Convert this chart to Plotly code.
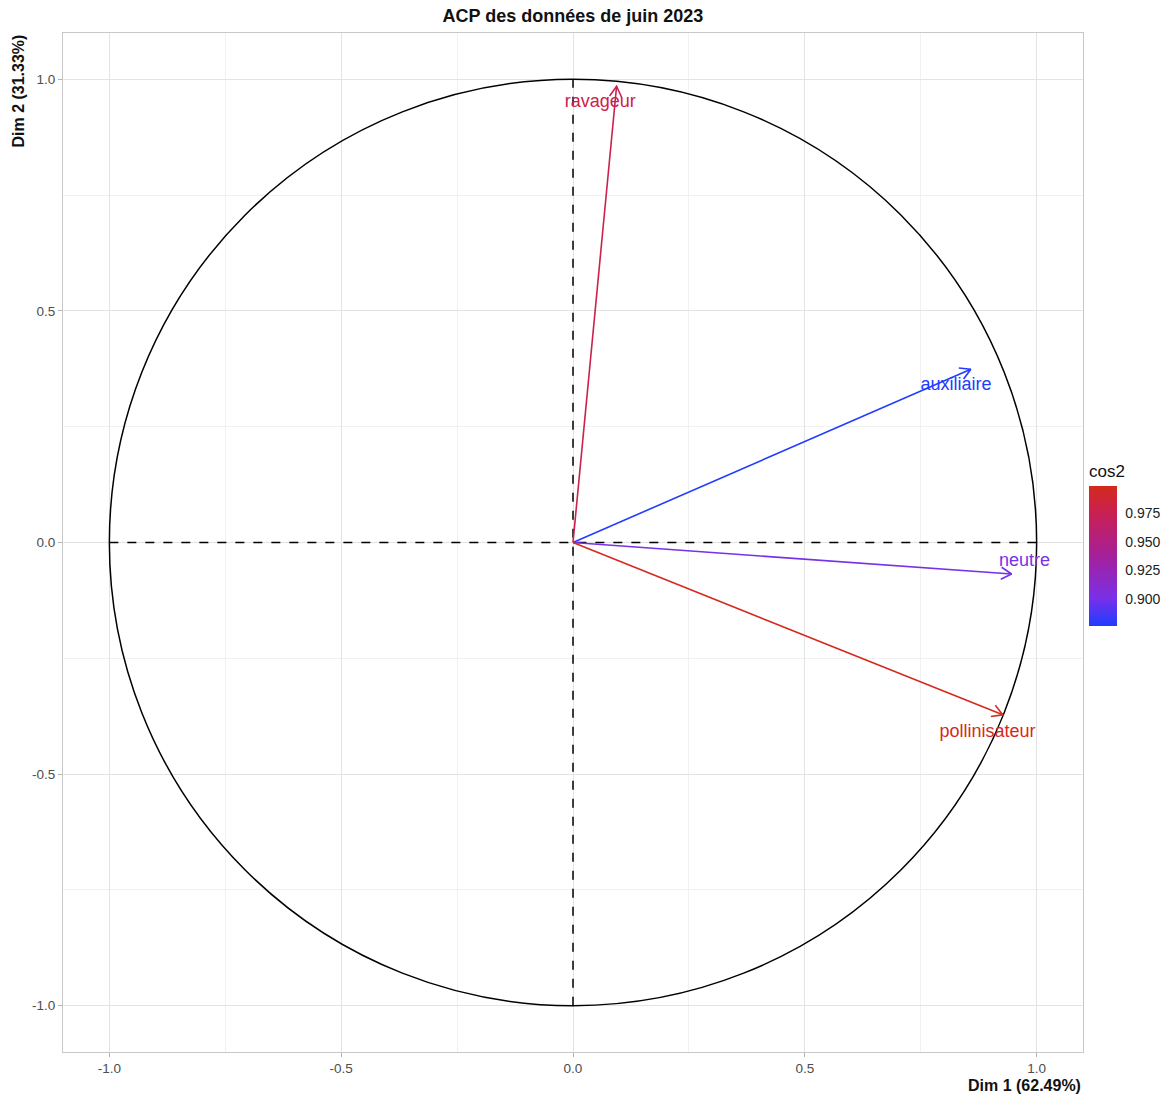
import numpy as np
import plotly.graph_objects as go
from plotly.colors import sample_colorscale

# ---- data ----
variables = ["ravageur", "auxiliaire", "neutre", "pollinisateur"]
dim1 = [0.094, 0.858, 0.946, 0.927]
dim2 = [0.985, 0.374, -0.068, -0.372]
cos2 = [0.979, 0.877, 0.900, 0.999]
label_x = [0.059, 0.826, 0.974, 0.894]
label_y = [0.950, 0.340, -0.040, -0.411]
axis_ticks = [-1.0, -0.5, 0.0, 0.5, 1.0]
cbar_ticks = [0.900, 0.925, 0.950, 0.975]
cmin, cmax = 0.8765, 0.9995

colorscale = [
    [0.0, "#1f3cff"],
    [0.2, "#7a30e8"],
    [0.5, "#a5209a"],
    [0.8, "#c91f55"],
    [1.0, "#d42a1c"],
]

fig = go.Figure()

head_len = 0.026
head_ang = np.deg2rad(30)

for name, x, y, c in zip(variables, dim1, dim2, cos2):
    t = (c - cmin) / (cmax - cmin)
    col = sample_colorscale(colorscale, [min(max(t, 0), 1)], colortype="rgb")[0]
    ang = np.arctan2(y, x)
    hl = (x - head_len * np.cos(ang + head_ang), y - head_len * np.sin(ang + head_ang))
    hr = (x - head_len * np.cos(ang - head_ang), y - head_len * np.sin(ang - head_ang))
    fig.add_trace(go.Scatter(
        x=[0, x, None, hl[0], x, hr[0]],
        y=[0, y, None, hl[1], y, hr[1]],
        mode="lines", line=dict(color=col, width=1.6),
        showlegend=False, hoverinfo="skip"))

for name, lx, ly, c in zip(variables, label_x, label_y, cos2):
    t = (c - cmin) / (cmax - cmin)
    col = sample_colorscale(colorscale, [min(max(t, 0), 1)], colortype="rgb")[0]
    fig.add_trace(go.Scatter(
        x=[lx], y=[ly], mode="text", text=[name],
        textfont=dict(color=col, size=18, family="Liberation Sans, Arial"),
        textposition="middle center", showlegend=False, hoverinfo="skip"))

# colorbar carrier
fig.add_trace(go.Scatter(
    x=dim1, y=dim2, mode="markers",
    marker=dict(size=1, opacity=0, color=cos2, colorscale=colorscale,
                cmin=cmin, cmax=cmax, showscale=True,
                colorbar=dict(
                    title=dict(text="cos2", side="top",
                               font=dict(size=17, color="#111")),
                    x=1.006, xanchor="left", xpad=0,
                    y=0.499, yanchor="middle",
                    len=164, lenmode="pixels", thickness=28,
                    outlinewidth=0, ypad=0,
                    tickvals=cbar_ticks, ticktext=[f"{v:.3f}" for v in cbar_ticks],
                    ticks="outside", ticklen=6, tickcolor="rgba(0,0,0,0)", tickwidth=1,
                    tickfont=dict(size=14, color="#222"))),
    showlegend=False, hoverinfo="skip"))

# circle and dashed axes
fig.add_shape(type="circle", xref="x", yref="y", x0=-1, y0=-1, x1=1, y1=1,
              line=dict(color="black", width=1.5), layer="between")
fig.add_shape(type="line", xref="x", yref="y", x0=-1, y0=0, x1=1, y1=0,
              line=dict(color="black", width=1.5, dash="dash"), layer="between")
fig.add_shape(type="line", xref="x", yref="y", x0=0, y0=-1, x1=0, y1=1,
              line=dict(color="black", width=1.5, dash="dash"), layer="between")

axis_common = dict(
    range=[-1.1, 1.1], tickvals=axis_ticks,
    ticktext=[f"{v:.1f}" for v in axis_ticks],
    showgrid=True, gridcolor="#e3e3e3", gridwidth=1,
    minor=dict(dtick=0.25, showgrid=True, gridcolor="#f1f1f1", gridwidth=0.8),
    zeroline=False, showline=True, mirror=True, linecolor="#c8c8c8", linewidth=1,
    ticks="outside", ticklen=4, tickcolor="#b3b3b3",
    tickfont=dict(size=13.5, color="#4d4d4d"),
    automargin=False,
)

# page body adds an 8px offset; figure sized to compensate
fig.update_layout(
    width=1161, height=1091,
    margin=dict(l=55, r=86, t=25, b=47, autoexpand=False),
    paper_bgcolor="white", plot_bgcolor="white",
    font=dict(family="Liberation Sans, Arial, sans-serif"),
    title=dict(text="<b>ACP des données de juin 2023</b>", x=0.5, xref="paper",
               y=1 - 1 / 1091, yanchor="top", xanchor="center", pad=dict(t=0),
               font=dict(size=18, color="#111")),
    xaxis=axis_common,
    yaxis=axis_common,
    annotations=[
        dict(text="<b>Dim 1 (62.49%)</b>", xref="paper", yref="paper",
             x=1, y=-0.0324, xanchor="right", yanchor="middle", showarrow=False,
             font=dict(size=16, color="#111")),
        dict(text="<b>Dim 2 (31.33%)</b>", xref="paper", yref="paper",
             x=-0.0441, y=1, xanchor="center", yanchor="top", textangle=-90,
             showarrow=False, font=dict(size=16, color="#111")),
    ],
)

fig.write_html("out.html")
